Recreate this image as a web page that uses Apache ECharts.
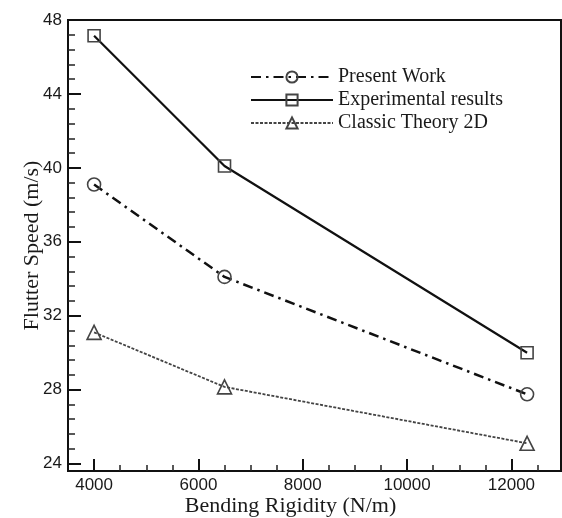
<!DOCTYPE html>
<html>
<head>
<meta charset="utf-8">
<script src="https://cdn.jsdelivr.net/npm/echarts@6/dist/echarts.min.js"></script>
<style>
html,body{margin:0;padding:0;background:#fff;}
#chart{width:562px;height:518px;}
</style>
</head>
<body>
<div id="chart"></div>
<script>
// ---- data ----
const bendingRigidity = [4000, 6500, 12300];
const presentWork = [39.1, 34.1, 27.75];
const experimental = [47.15, 40.1, 30.0];
const classicTheory = [31.1, 28.15, 25.1];
const seriesNames = ['Present Work', 'Experimental results', 'Classic Theory 2D'];

const xMajorTicks = [4000, 6000, 8000, 10000, 12000];
const xMinorTicks = [4500, 5000, 5500, 6500, 7000, 7500, 8500, 9000, 9500, 10500, 11000, 11500, 12500];
const yMajorTicks = [24, 28, 32, 36, 40, 44, 48];
const yMinorTicks = [24.8, 25.6, 26.4, 27.2, 28.8, 29.6, 30.4, 31.2, 32.8, 33.6, 34.4, 35.2,
                     36.8, 37.6, 38.4, 39.2, 40.8, 41.6, 42.4, 43.2, 44.8, 45.6, 46.4, 47.2];
const xRange = [3500, 12950];
const yRange = [23.6, 48];

const pairs = ys => bendingRigidity.map((x, i) => [x, ys[i]]);

const chart = echarts.init(document.getElementById('chart'), null, {renderer: 'canvas'});
const serif = '"Liberation Serif", "Times New Roman", serif';
const sans = '"Liberation Sans", Arial, sans-serif';

const markerStyle = {color: 'rgba(255,255,255,0)', borderColor: '#444', borderWidth: 1.6};

chart.setOption({
  animation: false,
  backgroundColor: '#fff',
  grid: {left: 68, right: 1, top: 20, bottom: 47, outerBoundsMode: 'none', containLabel: false,
         show: true, borderColor: '#111', borderWidth: 2, backgroundColor: 'transparent'},
  legend: {
    orient: 'vertical', left: 245, top: 62, itemWidth: 82, itemHeight: 14, itemGap: 3,
    data: seriesNames,
    textStyle: {fontFamily: serif, fontSize: 20, color: '#1a1a1a', lineHeight: 20}
  },
  xAxis: [{
    type: 'value', min: xRange[0], max: xRange[1], position: 'bottom',
    name: 'Bending Rigidity (N/m)', nameLocation: 'middle', nameGap: 24, nameMoveOverlap: false,
    nameTextStyle: {fontFamily: serif, fontSize: 22, color: '#1a1a1a', padding: [0, 48, 0, 0]},
    splitLine: {show: false},
    axisLine: {show: true, lineStyle: {color: '#111', width: 2}},
    axisTick: {show: true, inside: true, length: 12, customValues: xMajorTicks, lineStyle: {color: '#111', width: 2}},
    axisLabel: {customValues: xMajorTicks, formatter: v => String(v), fontFamily: sans, fontSize: 17, color: '#1a1a1a', margin: 6}
  }, {
    type: 'value', min: xRange[0], max: xRange[1], position: 'bottom',
    splitLine: {show: false},
    axisLine: {show: false},
    axisTick: {show: true, inside: true, length: 6, customValues: xMinorTicks, lineStyle: {color: '#222', width: 1.5}},
    axisLabel: {show: false}
  }],
  yAxis: [{
    type: 'value', min: yRange[0], max: yRange[1], position: 'left',
    name: 'Flutter Speed (m/s)', nameLocation: 'middle', nameGap: 25, nameMoveOverlap: false,
    nameTextStyle: {fontFamily: serif, fontSize: 22, color: '#1a1a1a'},
    splitLine: {show: false},
    axisLine: {show: true, lineStyle: {color: '#111', width: 2}},
    axisTick: {show: true, inside: true, length: 13, customValues: yMajorTicks, lineStyle: {color: '#111', width: 2}},
    axisLabel: {customValues: yMajorTicks, formatter: v => String(v), fontFamily: sans, fontSize: 17, color: '#1a1a1a', margin: 6}
  }, {
    type: 'value', min: yRange[0], max: yRange[1], position: 'left',
    splitLine: {show: false},
    axisLine: {show: false},
    axisTick: {show: true, inside: true, length: 7, customValues: yMinorTicks, lineStyle: {color: '#222', width: 1.5}},
    axisLabel: {show: false}
  }],
  series: [{
    name: seriesNames[0], type: 'line', data: pairs(presentWork),
    xAxisIndex: 0, yAxisIndex: 0,
    symbol: 'circle', symbolSize: 13,
    itemStyle: markerStyle,
    lineStyle: {color: '#111', width: 2.5, type: [10, 5, 2.5, 5]}
  }, {
    name: seriesNames[1], type: 'line', data: pairs(experimental),
    xAxisIndex: 0, yAxisIndex: 0,
    symbol: 'rect', symbolSize: 12,
    itemStyle: markerStyle,
    lineStyle: {color: '#111', width: 2.2, type: 'solid'}
  }, {
    name: seriesNames[2], type: 'line', data: pairs(classicTheory),
    xAxisIndex: 0, yAxisIndex: 0,
    symbol: 'triangle', symbolSize: 14,
    itemStyle: markerStyle,
    lineStyle: {color: '#444', width: 1.8, type: [3, 1.5]}
  }]
});
</script>
</body>
</html>
